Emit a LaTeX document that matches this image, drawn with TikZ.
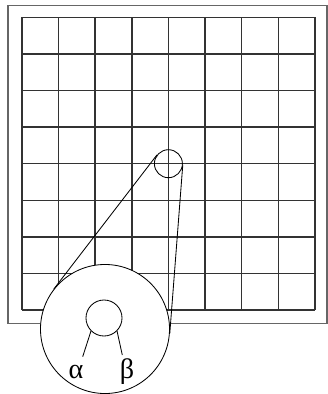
\documentclass[tikz,border=0pt]{standalone}
\usepackage{fontspec}
\setmainfont{Liberation Serif}
\usepackage{tikz}

\begin{document}
\begin{tikzpicture}[
    x=0.025cm, y=-0.025cm,
    frame/.style={draw=black!60, line width=0.8pt},
    gridline/.style={draw=black!80, line width=1pt},
    lens/.style={circle, draw, line width=0.6pt, inner sep=0pt},
    tangent/.style={line width=0.6pt},
    greek/.style={font=\fontsize{20}{22}\selectfont, inner sep=0pt, anchor=base}
  ]
    \useasboundingbox (0,0) rectangle (328,394);

    % the 8x8 board and its frame
    \foreach \i in {0,...,8} {
      \draw[gridline] (22+36.6*\i,17.3) -- (22+36.6*\i,310.1);
      \draw[gridline] (22,17.3+36.6*\i) -- (314.8,17.3+36.6*\i);
    }
    \draw[frame] (8,5.5) rectangle (327,323.5);

    \node[lens, minimum size=0.7cm] (spot) at (168.4,163.7) {};
    \node[lens, minimum size=3.225cm, fill=white] (zoom) at (105,329) {};

    \draw[tangent] (spot.142.2) -- (zoom.142.2);
    \draw[tangent] (spot.-4.6) -- (zoom.-4.6);

    % inside the magnified view
    \node[lens, minimum size=0.9cm] (hub) at (104,318) {};
    \node[greek] (alpha) at (76,378) {α};
    \node[greek] (beta)  at (127,378) {β};
    \coordinate (aleg) at (82.7,356.7);
    \coordinate (bleg) at (122.3,355);
    \draw[tangent] (hub.-135) -- (aleg);
    \draw[tangent] (hub.-45) -- (bleg);
  \end{tikzpicture}
\end{document}
